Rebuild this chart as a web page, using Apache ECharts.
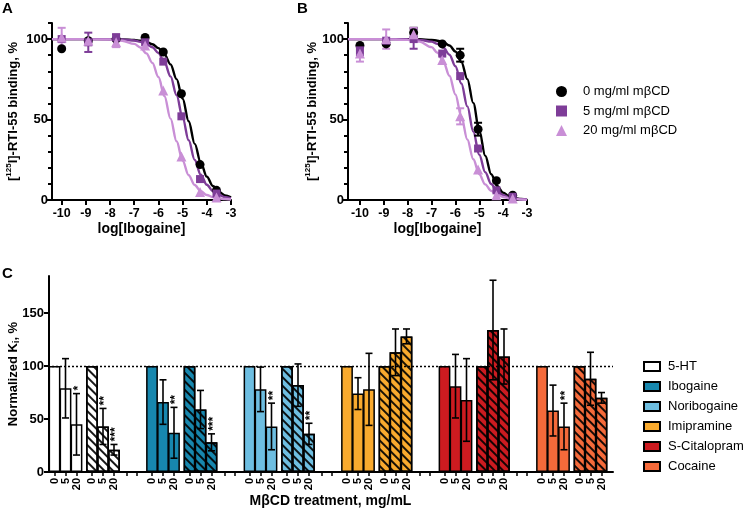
<!DOCTYPE html>
<html>
<head>
<meta charset="utf-8">
<script src="https://cdn.jsdelivr.net/npm/echarts@6.0.0/dist/echarts.min.js"></script>
<style>
html,body{margin:0;padding:0;background:#ffffff;}
#chart{width:745px;height:511px;}
</style>
</head>
<body>
<div id="chart"></div>
<script>
// ===================== Panels A / B =====================
const doseNames = ['0 mg/ml mβCD', '5 mg/ml mβCD', '20 mg/ml mβCD'];
const xTicksAB = [-10, -9, -8, -7, -6, -5, -4, -3];
const yTicksAB = [0, 50, 100];
const yMinorAB = [10, 20, 30, 40, 60, 70, 80, 90, 110];

// measured points (log concentration, % binding, SEM)
const concA = [-10, -8.9, -7.75, -6.55, -5.8, -5.05, -4.28, -3.6];
const bindA0 = [94, 99, 100, 101, 92, 66, 22, 6];
const bindA5 = [100, 98, 101, 98, 86, 52, 13, 4];
const bindA20 = [101, 99, 98, 96, 68, 27, 5, 1.5];
const errA0 = [0, 0, 0, 0, 0, 0, 0, 0];
const errA5 = [0, 6, 2, 0, 0, 0, 0, 0];
const errA20 = [6, 0, 3, 0, 0, 0, 0, 0];

const concB = [-10, -8.9, -7.75, -6.55, -5.8, -5.05, -4.28, -3.6];
const bindB0 = [96, 97, 104, 97, 90, 44, 12, 3];
const bindB5 = [93, 99, 100, 91, 77, 32, 6, 2];
const bindB20 = [91, 100, 103, 87, 52, 19, 3, 1];
const errB0 = [0, 0, 3, 0, 4, 4, 0, 0];
const errB5 = [3, 0, 6, 0, 0, 0, 0, 0];
const errB20 = [5, 6, 4, 0, 5, 0, 0, 0];

// fitted curves
const fitXA = [-10.4, -9, -8, -7.5, -7, -6.75, -6.5, -6.25, -6, -5.75, -5.5, -5.25, -5, -4.75, -4.5, -4.25, -4, -3.75, -3.5, -3.25, -3];
const fitA0 = [100, 100, 99.9, 99.8, 99.4, 99.0, 98.2, 96.8, 94.4, 90.5, 84.3, 75.1, 62.9, 48.9, 34.9, 23.2, 14.5, 8.7, 5.1, 2.9, 1.7];
const fitA5 = [100, 100, 99.9, 99.7, 99.1, 98.3, 97.1, 94.9, 91.3, 85.5, 76.8, 65.1, 51.2, 37.1, 24.9, 15.7, 9.5, 5.6, 3.2, 1.8, 1.0];
const fitA20 = [100, 100, 99.7, 99.0, 97.0, 94.8, 91.1, 85.2, 76.4, 64.5, 50.6, 36.5, 24.4, 15.4, 9.3, 5.4, 3.1, 1.8, 1.0, 0.6, 0.3];

const fitXB = [-10.5, -9, -8, -7.5, -7, -6.75, -6.5, -6.25, -6, -5.75, -5.5, -5.25, -5, -4.75, -4.5, -4.25, -4, -3.75, -3.5, -3.25, -3];
const fitB0 = [100, 100, 99.9, 99.9, 99.5, 99.0, 98.0, 96.0, 92.3, 85.8, 75.1, 60.2, 43.1, 27.5, 16.0, 8.7, 4.6, 2.3, 1.2, 0.6, 0.3];
const fitB5 = [100, 100, 99.9, 99.5, 98.4, 97.1, 94.6, 90.3, 83.1, 72.4, 58.2, 42.5, 28.1, 17.2, 9.9, 5.5, 3.0, 1.6, 0.9, 0.5, 0.3];
const fitB20 = [100, 100, 99.5, 98.4, 95.0, 91.5, 85.8, 77.2, 65.6, 51.7, 37.6, 25.3, 16.0, 9.7, 5.7, 3.3, 1.9, 1.1, 0.6, 0.3, 0.2];

// ===================== Panel C =====================
const drugs = ['5-HT', 'Ibogaine', 'Noribogaine', 'Imipramine', 'S-Citalopram', 'Cocaine'];
const treatLabels = ['0', '5', '20'];
const yTicksC = [0, 50, 100, 150];
// per drug: [solid 0, 5, 20, hatched 0, 5, 20]
const mean5HT = [100, 79, 45, 100, 43, 21];
const err5HT = [0, 28, 29, 0, 17, 5];
const star5HT = ['', '', '*', '', '**', '***'];
const meanIbo = [100, 66, 37, 100, 59, 28];
const errIbo = [0, 21, 24, 0, 18, 8];
const starIbo = ['', '', '**', '', '', '***'];
const meanNor = [100, 78, 43, 100, 82, 36];
const errNor = [0, 21, 22, 0, 20, 10];
const starNor = ['', '', '**', '', '', '**'];
const meanImi = [100, 74, 78, 100, 113, 128];
const errImi = [0, 15, 34, 0, 22, 7];
const starImi = ['', '', '', '', '', ''];
const meanCit = [100, 81, 68, 100, 134, 109];
const errCit = [0, 30, 39, 0, 47, 26];
const starCit = ['', '', '', '', '', ''];
const meanCoc = [100, 58, 43, 100, 88, 70];
const errCoc = [0, 24, 22, 0, 25, 5];
const starCoc = ['', '', '**', '', '', ''];

// ===================== build =====================
const FONT = '"Liberation Sans", Arial, Helvetica, sans-serif';
const doseColors = ['#000000', '#7e3d98', '#c98fd6'];
const doseSymbols = ['circle', 'rect', 'triangle'];
const doseSizes = [9, 8, 10];
const drugColors = ['#ffffff', '#1787ae', '#6ebee1', '#f9aa2e', '#cc1b20', '#f56a3a'];

const panels = [
  { conc: concA, means: [bindA0, bindA5, bindA20], errs: [errA0, errA5, errA20], fx: fitXA, fits: [fitA0, fitA5, fitA20] },
  { conc: concB, means: [bindB0, bindB5, bindB20], errs: [errB0, errB5, errB20], fx: fitXB, fits: [fitB0, fitB5, fitB20] }
];

function errRenderer(color, capW, lw) {
  return function (params, api) {
    const x = api.value(0), m = api.value(1), e = api.value(2);
    const t = api.coord([x, m + e]), b = api.coord([x, m - e]);
    const st = { stroke: color, lineWidth: lw };
    return {
      type: 'group',
      children: [
        { type: 'line', shape: { x1: t[0], y1: t[1], x2: b[0], y2: b[1] }, style: st },
        { type: 'line', shape: { x1: t[0] - capW / 2, y1: t[1], x2: t[0] + capW / 2, y2: t[1] }, style: st },
        { type: 'line', shape: { x1: b[0] - capW / 2, y1: b[1], x2: b[0] + capW / 2, y2: b[1] }, style: st }
      ]
    };
  };
}

const series = [];
panels.forEach((p, pi) => {
  for (let d = 0; d < 3; d++) {
    series.push({
      type: 'line', name: 'fit' + pi + '_' + d, xAxisIndex: pi, yAxisIndex: pi * 2,
      data: p.fx.map((x, i) => [x, p.fits[d][i]]),
      smooth: 0.35, smoothMonotone: 'x', showSymbol: false, silent: true,
      lineStyle: { color: doseColors[d], width: 2.4 }, z: 2
    });
  }
  for (let d = 0; d < 3; d++) {
    const ed = [];
    p.conc.forEach((x, i) => { if (p.errs[d][i] > 0) ed.push([x, p.means[d][i], p.errs[d][i]]); });
    series.push({
      type: 'custom', name: 'err' + pi + '_' + d, xAxisIndex: pi, yAxisIndex: pi * 2,
      data: ed, renderItem: errRenderer(doseColors[d], 8, 2), silent: true, z: 3
    });
  }
  for (let d = 0; d < 3; d++) {
    series.push({
      type: 'scatter', name: doseNames[d], xAxisIndex: pi, yAxisIndex: pi * 2,
      data: p.conc.map((x, i) => [x, p.means[d][i]]),
      symbol: doseSymbols[d], symbolSize: doseSizes[d],
      itemStyle: { color: doseColors[d], opacity: 1 }, z: 4
    });
  }
});

// ---- panel C layout: x measured in bar widths (grouped-bar positions) ----
const PX_PER_BAR = 11;
const DRUG_STEP = 97.5 / PX_PER_BAR;   // spacing between drug blocks
const HATCH_OFF = 37.5 / PX_PER_BAR;   // offset of hatched group inside a block
const GAP_TICKS = [78 / PX_PER_BAR, 88 / PX_PER_BAR]; // empty tick slots after a block
function barPos(d, h, j) { return d * DRUG_STEP + h * HATCH_OFF + j + 0.5; }

const drugMeans = [mean5HT, meanIbo, meanNor, meanImi, meanCit, meanCoc];
const drugErrs = [err5HT, errIbo, errNor, errImi, errCit, errCoc];
const drugStars = [star5HT, starIbo, starNor, starImi, starCit, starCoc];

const labelVals = [], tickVals = [], labelMap = {};
drugs.forEach((n, d) => {
  for (let h = 0; h < 2; h++) for (let j = 0; j < 3; j++) {
    const v = barPos(d, h, j);
    labelVals.push(v); tickVals.push(v); labelMap[v.toFixed(3)] = treatLabels[j];
  }
  if (d < drugs.length - 1) GAP_TICKS.forEach(g => tickVals.push(d * DRUG_STEP + g));
});

const hatch = { symbol: 'rect', symbolSize: 1, dashArrayX: [1, 0], dashArrayY: [1.3, 3.6], rotation: Math.PI / 4, color: 'rgba(0,0,0,0.9)' };

series.push({
  type: 'line', name: 'ref100', xAxisIndex: 2, yAxisIndex: 4, data: [], z: 1, silent: true,
  markLine: { silent: true, symbol: 'none', label: { show: false },
    lineStyle: { type: [2, 2], color: '#000', width: 1.3 }, data: [{ yAxis: 100 }] }
});
drugs.forEach((name, d) => {
  for (let h = 0; h < 2; h++) {
    const data = [];
    for (let j = 0; j < 3; j++) data.push([barPos(d, h, j), drugMeans[d][h * 3 + j]]);
    const itemStyle = { color: drugColors[d], borderColor: '#000', borderWidth: 1.5 };
    if (h === 1) itemStyle.decal = hatch;
    series.push({
      type: 'bar', name: name, xAxisIndex: 2, yAxisIndex: 4, data: data,
      barWidth: 11.8, barGap: '-100%', itemStyle: itemStyle, z: 2, silent: true
    });
  }
});
const errC = [], starC = [];
drugs.forEach((name, d) => {
  for (let k = 0; k < 6; k++) {
    if (drugErrs[d][k] > 0) {
      errC.push([barPos(d, Math.floor(k / 3), k % 3), drugMeans[d][k], drugErrs[d][k]]);
      starC.push(drugStars[d][k]);
    }
  }
});
series.push({
  type: 'custom', name: 'errC', xAxisIndex: 2, yAxisIndex: 4, data: errC, z: 3, silent: true,
  renderItem: function (params, api) {
    const g = errRenderer('#000', 7, 1.6)(params, api);
    const s = starC[params.dataIndex];
    if (s) {
      const t = api.coord([api.value(0), api.value(1) + api.value(2)]);
      g.children.push({
        type: 'text', x: t[0] + 2, y: t[1] - 3, rotation: Math.PI / 2,
        style: { text: s, fill: '#000', font: 'bold 12px ' + FONT, align: 'left', verticalAlign: 'middle' }
      });
    }
    return g;
  }
});

const axisLineStyle = { show: true, lineStyle: { color: '#000', width: 2 } };
const tickLabel = { color: '#000', fontWeight: 'bold', fontSize: 12.5, fontFamily: FONT };

function abX(grid, min) {
  return {
    type: 'value', gridIndex: grid, min: min, max: -3,
    axisLine: { show: true, onZero: false, lineStyle: { color: '#000', width: 2 } },
    axisTick: { show: true, length: 5, lineStyle: { width: 2, color: '#000' }, customValues: xTicksAB },
    axisLabel: Object.assign({ customValues: xTicksAB, margin: 7 }, tickLabel),
    splitLine: { show: false },
    name: 'log[Ibogaine]', nameLocation: 'middle', nameGap: 22,
    nameTextStyle: { color: '#000', fontWeight: 'bold', fontSize: 14, fontFamily: FONT }
  };
}
function abY(grid, gap) {
  return {
    type: 'value', gridIndex: grid, min: 0, max: 110,
    axisLine: axisLineStyle,
    axisTick: { show: true, length: 6, lineStyle: { width: 2, color: '#000' }, customValues: yTicksAB },
    axisLabel: Object.assign({ customValues: yTicksAB, margin: 4 }, tickLabel, { fontSize: 13 }),
    splitLine: { show: false },
    name: '[{sup|125}I]-RTI-55 binding, %', nameLocation: 'middle', nameGap: gap, nameMoveOverlap: false,
    nameTextStyle: {
      color: '#000', fontWeight: 'bold', fontSize: 13, fontFamily: FONT, lineHeight: 16,
      rich: { sup: { fontSize: 8, fontWeight: 'bold', fontFamily: FONT, color: '#000', verticalAlign: 'top', lineHeight: 9 } }
    }
  };
}
function abYMinor(grid) {
  return {
    type: 'value', gridIndex: grid, min: 0, max: 110, position: 'left',
    axisLine: { show: false },
    axisTick: { show: true, length: 4, lineStyle: { width: 2, color: '#000' }, customValues: yMinorAB },
    axisLabel: { show: false }, splitLine: { show: false }
  };
}

const option = {
  animation: false,
  backgroundColor: '#ffffff',
  textStyle: { fontFamily: FONT },
  grid: [
    { left: 52, top: 23, width: 179, height: 177, outerBoundsMode: 'none', containLabel: false },
    { left: 348, top: 23, width: 179, height: 177, outerBoundsMode: 'none', containLabel: false },
    { left: 48, top: 276, width: 565, height: 196, outerBoundsMode: 'none', containLabel: false }
  ],
  xAxis: [
    abX(0, -10.4),
    abX(1, -10.5),
    {
      type: 'value', gridIndex: 2, min: -1 / PX_PER_BAR, max: 564 / PX_PER_BAR,
      axisLine: { show: true, onZero: false, lineStyle: { color: '#000', width: 2 } },
      axisTick: { show: true, length: 4, lineStyle: { width: 1.5, color: '#000' }, customValues: tickVals },
      axisLabel: Object.assign({
        customValues: labelVals, rotate: 90, margin: 6,
        formatter: v => labelMap[Number(v).toFixed(3)] || ''
      }, tickLabel, { fontSize: 11 }),
      splitLine: { show: false },
      name: 'MβCD treatment, mg/mL', nameLocation: 'middle', nameGap: 22,
      nameTextStyle: { color: '#000', fontWeight: 'bold', fontSize: 14, fontFamily: FONT }
    }
  ],
  yAxis: [
    abY(0, 31), abYMinor(0),
    abY(1, 28), abYMinor(1),
    {
      type: 'value', gridIndex: 2, min: 0, max: 185,
      axisLine: axisLineStyle,
      axisTick: { show: true, length: 5, lineStyle: { width: 2, color: '#000' }, customValues: yTicksC },
      axisLabel: Object.assign({ customValues: yTicksC, margin: 4 }, tickLabel, { fontSize: 13 }),
      splitLine: { show: false },
      name: 'Normalized K{sub|i}, %', nameLocation: 'middle', nameGap: 27, nameMoveOverlap: false,
      nameTextStyle: {
        color: '#000', fontWeight: 'bold', fontSize: 13, fontFamily: FONT, lineHeight: 16,
        rich: { sub: { fontSize: 9, fontWeight: 'bold', fontFamily: FONT, color: '#000', verticalAlign: 'bottom', lineHeight: 10 } }
      }
    }
  ],
  legend: [
    {
      data: doseNames, orient: 'vertical', left: 556, top: 85, padding: 0,
      itemWidth: 11, itemHeight: 11, itemGap: 6.5, selectedMode: false,
      textStyle: { color: '#000', fontSize: 13, fontFamily: FONT, padding: [0, 0, 0, 11] }
    },
    {
      data: drugs, orient: 'vertical', left: 643, top: 360, padding: 0, icon: 'rect',
      itemWidth: 16, itemHeight: 9, itemGap: 7, selectedMode: false,
      textStyle: { color: '#000', fontSize: 13, fontFamily: FONT, padding: [0, 0, 0, 3] }
    }
  ],
  graphic: [
    { type: 'text', left: 2, top: 1, style: { text: 'A', font: 'bold 15px ' + FONT, fill: '#000' } },
    { type: 'text', left: 297, top: 1, style: { text: 'B', font: 'bold 15px ' + FONT, fill: '#000' } },
    { type: 'text', left: 2, top: 266, style: { text: 'C', font: 'bold 15px ' + FONT, fill: '#000' } }
  ],
  series: series
};

const chart = echarts.init(document.getElementById('chart'), null, { renderer: 'canvas' });
chart.setOption(option);
</script>
</body>
</html>
